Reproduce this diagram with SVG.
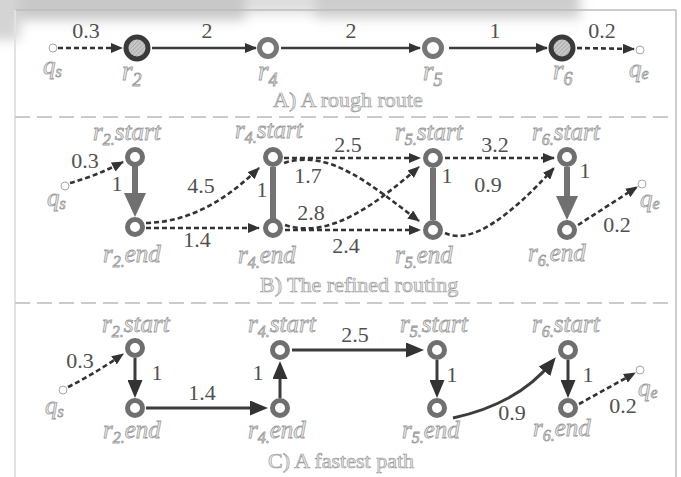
<svg xmlns="http://www.w3.org/2000/svg" width="681" height="477" viewBox="0 0 681 477">
  <defs>
    <style>
      .lbl { font-family: "Liberation Serif", "Times New Roman", serif; font-style: italic; font-size: 25px; fill: #eeeeee; stroke: #9c9c9c; stroke-width: 0.8; }
      .lblA { font-size: 27px; }
      .sub { font-size: 16px; }
      .subA { font-size: 18px; }
      .num { font-family: "Liberation Serif", "Times New Roman", serif; font-size: 22px; fill: #505050; text-anchor: middle; }
      .cap { font-family: "Liberation Serif", "Times New Roman", serif; font-size: 22px; fill: #eeeeee; stroke: #9c9c9c; stroke-width: 0.7; }
      .ring { fill: #fff; stroke: #6f6f6f; stroke-width: 5; }
      .ringA { fill: #fff; stroke: #777; stroke-width: 5; }
      .ringD { fill: url(#hatch); stroke: #3a3a3a; stroke-width: 5; }
      .end { fill: #fff; stroke: #a8a8a8; stroke-width: 1; }
      .dash { fill: none; stroke: #333; stroke-width: 2.6; stroke-dasharray: 5 3; marker-end: url(#ah); }
      .solid { fill: none; stroke: #3c3c3c; stroke-width: 2.6; marker-end: url(#ah); }
      .solidC { fill: none; stroke: #3c3c3c; stroke-width: 3; marker-end: url(#dbig); }
      .thick { fill: none; stroke: #737373; stroke-width: 6; }
      .thickArr { fill: none; stroke: #737373; stroke-width: 6; marker-end: url(#gbig); }
      .sep { stroke: #cbcbcb; stroke-width: 2; stroke-dasharray: 15 7; }
    </style>
    <pattern id="hatch" width="3" height="3" patternUnits="userSpaceOnUse" patternTransform="rotate(45)">
      <rect width="3" height="3" fill="#c9c9c9"/>
      <line x1="0" y1="0" x2="0" y2="3" stroke="#8f8f8f" stroke-width="1"/>
    </pattern>
    <marker id="ah" viewBox="0 0 12 10" refX="11" refY="5" markerWidth="12" markerHeight="10" orient="auto" markerUnits="userSpaceOnUse">
      <path d="M0,0 L12,5 L0,10 z" fill="#333"/>
    </marker>
    <marker id="gbig" viewBox="0 0 24 22" refX="12" refY="11" markerWidth="24" markerHeight="22" orient="auto" markerUnits="userSpaceOnUse">
      <path d="M0,0 L24,11 L0,22 z" fill="#707070"/>
    </marker>
    <marker id="dbig" viewBox="0 0 18 15" refX="12" refY="7.5" markerWidth="18" markerHeight="15" orient="auto" markerUnits="userSpaceOnUse">
      <path d="M0,0 L18,7.5 L0,15 z" fill="#333"/>
    </marker>
    <filter id="soft" x="-20%" y="-100%" width="140%" height="300%">
      <feGaussianBlur stdDeviation="6"/>
    </filter>
  </defs>

  <rect width="681" height="477" fill="#fff"/>

  <!-- soft grey band along the top edge -->
  <g filter="url(#soft)">
    <rect x="-20" y="-20" width="265" height="40" fill="#c8c8c8"/>
    <rect x="245" y="-20" width="75" height="34" fill="#dedede"/>
    <rect x="315" y="-20" width="265" height="38" fill="#cdcdcd"/>
    <rect x="-20" y="-20" width="40" height="60" fill="#d4d4d4"/>
  </g>

  <!-- frame and section separators -->
  <g id="frame">
    <line x1="15" y1="10" x2="676" y2="10" stroke="#bdbdbd" stroke-width="1.5"/>
    <line x1="15" y1="10" x2="15" y2="477" stroke="#e2e2e2" stroke-width="2"/>
    <line x1="676" y1="10" x2="676" y2="477" stroke="#bdbdbd" stroke-width="1.5"/>
    <line class="sep" x1="15" y1="117" x2="676" y2="117"/>
    <line class="sep" x1="15" y1="303" x2="676" y2="303"/>
  </g>

  <!-- connectors -->
  <g id="connectors">
    <!-- A: rough route -->
    <path class="dash" d="M58,48 L122,48"/>
    <path class="solid" d="M152,48 L256,48"/>
    <path class="solid" d="M281,48 L420,48"/>
    <path class="solid" d="M449,48 L547,48"/>
    <path class="dash" d="M577,48 L634,49"/>

    <!-- B: refined routing -->
    <path class="dash" d="M70,183 Q96,176 123,162"/>
    <path class="thickArr" d="M135,166 L135,205"/>
    <path class="dash" d="M146,223 C190,222 226,200 259,168"/>
    <path class="dash" d="M146,228 L259,228"/>
    <path class="thick" d="M273,167 L273,219"/>
    <path class="dash" d="M284,158 L420,158"/>
    <path class="dash" d="M284,163 C330,148 372,186 419,221"/>
    <path class="dash" d="M285,225 C330,240 377,203 419,167"/>
    <path class="dash" d="M285,230 L420,230"/>
    <path class="thick" d="M433,168 L433,220"/>
    <path class="dash" d="M445,158 L554,158"/>
    <path class="dash" d="M445,233 C472,246 512,214 554,168"/>
    <path class="thickArr" d="M567,167 L567,208"/>
    <path class="dash" d="M578,225 L637,187"/>

    <!-- C: fastest path -->
    <path class="dash" d="M68,387 Q96,373 123,354"/>
    <path class="solidC" d="M135,358 L135,392"/>
    <path class="solidC" d="M146,408 L262,408"/>
    <path class="solidC" d="M280,398 L280,367"/>
    <path class="solidC" d="M292,350 L418,350"/>
    <path class="solidC" d="M437,360 L437,392"/>
    <path class="solidC" d="M453,418 Q518,404 552,362"/>
    <path class="solidC" d="M568,360 L568,392"/>
    <path class="dash" d="M579,404 L635,373"/>
  </g>

  <!-- edge weights -->
  <g id="weights">
    <text class="num" x="86" y="38">0.3</text>
    <text class="num" x="207" y="38">2</text>
    <text class="num" x="351" y="38">2</text>
    <text class="num" x="495" y="38">1</text>
    <text class="num" x="602" y="38">0.2</text>

    <text class="num" x="85" y="168">0.3</text>
    <text class="num" x="117" y="191">1</text>
    <text class="num" x="201" y="193">4.5</text>
    <text class="num" x="197" y="247">1.4</text>
    <text class="num" x="262" y="197">1</text>
    <text class="num" x="348" y="152">2.5</text>
    <text class="num" x="308" y="183">1.7</text>
    <text class="num" x="311" y="220">2.8</text>
    <text class="num" x="346" y="253">2.4</text>
    <text class="num" x="447" y="183">1</text>
    <text class="num" x="495" y="152">3.2</text>
    <text class="num" x="488" y="192">0.9</text>
    <text class="num" x="585" y="178">1</text>
    <text class="num" x="617" y="232">0.2</text>

    <text class="num" x="80" y="368">0.3</text>
    <text class="num" x="157" y="380">1</text>
    <text class="num" x="202" y="400">1.4</text>
    <text class="num" x="258" y="380">1</text>
    <text class="num" x="355" y="342">2.5</text>
    <text class="num" x="452" y="382">1</text>
    <text class="num" x="512" y="420">0.9</text>
    <text class="num" x="588" y="382">1</text>
    <text class="num" x="623" y="413">0.2</text>
  </g>

  <!-- A) rough route nodes -->
  <g id="A-qs">
    <circle class="end" cx="53" cy="48" r="4"/>
    <text class="lbl" x="43" y="74">q<tspan class="sub" dy="3">s</tspan></text>
  </g>
  <g id="A-r2">
    <circle class="ringD" cx="137" cy="48" r="11"/>
    <text class="lbl lblA" x="122" y="80">r<tspan class="subA" dy="6">2</tspan></text>
  </g>
  <g id="A-r4">
    <circle class="ringA" cx="268" cy="48" r="8.5"/>
    <text class="lbl lblA" x="258" y="80">r<tspan class="subA" dy="6">4</tspan></text>
  </g>
  <g id="A-r5">
    <circle class="ringA" cx="433" cy="48" r="8.5"/>
    <text class="lbl lblA" x="423" y="80">r<tspan class="subA" dy="6">5</tspan></text>
  </g>
  <g id="A-r6">
    <circle class="ringD" cx="562" cy="48" r="11"/>
    <text class="lbl lblA" x="553" y="79">r<tspan class="subA" dy="6">6</tspan></text>
  </g>
  <g id="A-qe">
    <circle class="end" cx="640" cy="50" r="4"/>
    <text class="lbl" x="629" y="77">q<tspan class="sub" dy="2">e</tspan></text>
  </g>
  <text class="cap" x="273" y="107">A) A rough route</text>

  <!-- B) refined routing nodes -->
  <g id="B-qs">
    <circle class="end" cx="65" cy="186" r="4"/>
    <text class="lbl" x="47" y="206">q<tspan class="sub" dy="3">s</tspan></text>
  </g>
  <g id="B-r2start">
    <circle class="ring" cx="135" cy="157" r="7.5"/>
    <text class="lbl" x="93" y="140">r<tspan class="sub" dy="5">2.</tspan><tspan dy="-5">start</tspan></text>
  </g>
  <g id="B-r2end">
    <circle class="ring" cx="135" cy="227" r="7.5"/>
    <text class="lbl" x="103" y="262">r<tspan class="sub" dy="5">2.</tspan><tspan dy="-5">end</tspan></text>
  </g>
  <g id="B-r4start">
    <circle class="ring" cx="273" cy="157" r="7.5"/>
    <text class="lbl" x="235" y="138">r<tspan class="sub" dy="5">4.</tspan><tspan dy="-5">start</tspan></text>
  </g>
  <g id="B-r4end">
    <circle class="ring" cx="273" cy="228" r="7.5"/>
    <text class="lbl" x="238" y="263">r<tspan class="sub" dy="5">4.</tspan><tspan dy="-5">end</tspan></text>
  </g>
  <g id="B-r5start">
    <circle class="ring" cx="433" cy="158" r="7.5"/>
    <text class="lbl" x="395" y="140">r<tspan class="sub" dy="5">5.</tspan><tspan dy="-5">start</tspan></text>
  </g>
  <g id="B-r5end">
    <circle class="ring" cx="433" cy="230" r="7.5"/>
    <text class="lbl" x="395" y="263">r<tspan class="sub" dy="5">5.</tspan><tspan dy="-5">end</tspan></text>
  </g>
  <g id="B-r6start">
    <circle class="ring" cx="567" cy="157" r="7.5"/>
    <text class="lbl" x="532" y="140">r<tspan class="sub" dy="5">6.</tspan><tspan dy="-5">start</tspan></text>
  </g>
  <g id="B-r6end">
    <circle class="ring" cx="567" cy="230" r="7.5"/>
    <text class="lbl" x="528" y="261">r<tspan class="sub" dy="5">6.</tspan><tspan dy="-5">end</tspan></text>
  </g>
  <g id="B-qe">
    <circle class="end" cx="642" cy="184" r="4"/>
    <text class="lbl" x="640" y="207">q<tspan class="sub" dy="2">e</tspan></text>
  </g>
  <text class="cap" x="260" y="292">B) The refined routing</text>

  <!-- C) fastest path nodes -->
  <g id="C-qs">
    <circle class="end" cx="63" cy="390" r="4"/>
    <text class="lbl" x="45" y="414">q<tspan class="sub" dy="3">s</tspan></text>
  </g>
  <g id="C-r2start">
    <circle class="ring" cx="135" cy="348" r="7.5"/>
    <text class="lbl" x="102" y="332">r<tspan class="sub" dy="5">2.</tspan><tspan dy="-5">start</tspan></text>
  </g>
  <g id="C-r2end">
    <circle class="ring" cx="135" cy="408" r="7.5"/>
    <text class="lbl" x="103" y="438">r<tspan class="sub" dy="5">2.</tspan><tspan dy="-5">end</tspan></text>
  </g>
  <g id="C-r4start">
    <circle class="ring" cx="280" cy="350" r="7.5"/>
    <text class="lbl" x="248" y="332">r<tspan class="sub" dy="5">4.</tspan><tspan dy="-5">start</tspan></text>
  </g>
  <g id="C-r4end">
    <circle class="ring" cx="280" cy="408" r="7.5"/>
    <text class="lbl" x="248" y="438">r<tspan class="sub" dy="5">4.</tspan><tspan dy="-5">end</tspan></text>
  </g>
  <g id="C-r5start">
    <circle class="ring" cx="437" cy="350" r="7.5"/>
    <text class="lbl" x="400" y="332">r<tspan class="sub" dy="5">5.</tspan><tspan dy="-5">start</tspan></text>
  </g>
  <g id="C-r5end">
    <circle class="ring" cx="437" cy="408" r="7.5"/>
    <text class="lbl" x="402" y="438">r<tspan class="sub" dy="5">5.</tspan><tspan dy="-5">end</tspan></text>
  </g>
  <g id="C-r6start">
    <circle class="ring" cx="568" cy="350" r="7.5"/>
    <text class="lbl" x="532" y="332">r<tspan class="sub" dy="5">6.</tspan><tspan dy="-5">start</tspan></text>
  </g>
  <g id="C-r6end">
    <circle class="ring" cx="568" cy="408" r="7.5"/>
    <text class="lbl" x="533" y="436">r<tspan class="sub" dy="5">6.</tspan><tspan dy="-5">end</tspan></text>
  </g>
  <g id="C-qe">
    <circle class="end" cx="640" cy="370" r="4"/>
    <text class="lbl" x="638" y="396">q<tspan class="sub" dy="2">e</tspan></text>
  </g>
  <text class="cap" x="268" y="468">C) A fastest path</text>
</svg>
